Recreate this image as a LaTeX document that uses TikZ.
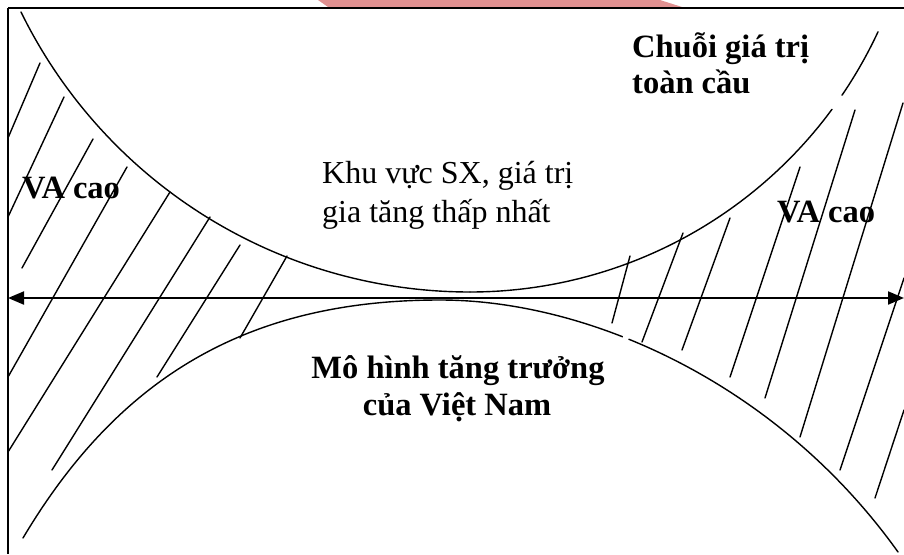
\documentclass[tikz,border=0pt]{standalone}
\usepackage{fontspec}
\setmainfont{Liberation Serif}
\usetikzlibrary{arrows.meta}
\definecolor{wmred}{RGB}{225,145,145}
\tikzset{
  curveline/.style={line width=1.4pt, line cap=round},
  hatchline/.style={line width=1.4pt, line cap=round},
  axisline/.style={line width=2pt, {Triangle[length=16pt,width=13pt]}-{Triangle[length=16pt,width=13pt]}},
  gapline/.style={white, line width=4pt},
  boldlbl/.style={inner sep=0pt, font=\fontsize{32.5}{37}\selectfont\bfseries},
  plainlbl/.style={inner sep=0pt, font=\fontsize{32}{37}\selectfont},
}
\begin{document}
\begin{tikzpicture}[x=1pt,y=-1pt]
\useasboundingbox (0,0) rectangle (904,554);
% watermark strip
\fill[wmred] (318,0) -- (660,0) -- (682,7) -- (328,7) -- cycle;
% frame
\draw[line width=2pt] (8,7.5) -- (904,7.5);
\draw[line width=1.6pt] (8,7.5) -- (8,554);
% upper curve (two arcs, with a small break at the right)
\draw[curveline] plot[domain=21:470, samples=80, smooth] (\x, {-208+100*sqrt(25-((\x-470)/100)^2)});
\draw[curveline] plot[domain=470:832, samples=60, smooth] (\x, {-158+100*sqrt(20.25-((\x-470)/100)^2)});
\draw[curveline] plot[domain=842:878, samples=12, smooth] (\x, {-158+100*sqrt(20.25-((\x-470)/100)^2)});
% lower curve
\draw[curveline] (23,538) .. controls (120,375) and (250,300) .. (440,300)
                         .. controls (590,300) and (778,384) .. (898,552);
% small break in lower curve
\draw[gapline] (623,336.8) -- (628.5,339);
% left hatching
\draw[hatchline] (40,63) -- (8,138);
\draw[hatchline] (64,97) -- (8,217);
\draw[hatchline] (93,139) -- (22,268);
\draw[hatchline] (127,167) -- (8,377);
\draw[hatchline] (170,192) -- (8,452);
\draw[hatchline] (210,217) -- (52,470);
\draw[hatchline] (240,245) -- (157,377);
\draw[hatchline] (287,256) -- (240,338);
% right hatching
\draw[hatchline] (630,256) -- (612,323);
\draw[hatchline] (683,233) -- (642,342);
\draw[hatchline] (730,218) -- (682,350);
\draw[hatchline] (800,167) -- (730,377);
\draw[hatchline] (855,110) -- (765,398);
\draw[hatchline] (903,103) -- (800,437);
\draw[hatchline] (904,278) -- (840,470);
\draw[hatchline] (904,410) -- (875,498);
% axis
\coordinate (axl) at (8,298);
\coordinate (axr) at (904,298);
\draw[axisline] (axl) -- (axr);
% labels
\node[boldlbl, anchor=base west] (cg1) at (632,57) {Chuỗi giá trị};
\node[boldlbl, anchor=base west] (cg2) at (632,93) {toàn cầu};
\node[boldlbl, anchor=base west] (val) at (22,198) {VA cao};
\node[boldlbl, anchor=base west] (var) at (777,222) {VA cao};
\node[plainlbl, anchor=base west] (kv1) at (322,183) {Khu vực SX, giá trị};
\node[plainlbl, anchor=base west] (kv2) at (322,222) {gia tăng thấp nhất};
\node[boldlbl, anchor=base] (mh1) at (458,378) {Mô hình tăng trưởng};
\node[boldlbl, anchor=base] (mh2) at (457,415) {của Việt Nam};
\end{tikzpicture}
\end{document}
